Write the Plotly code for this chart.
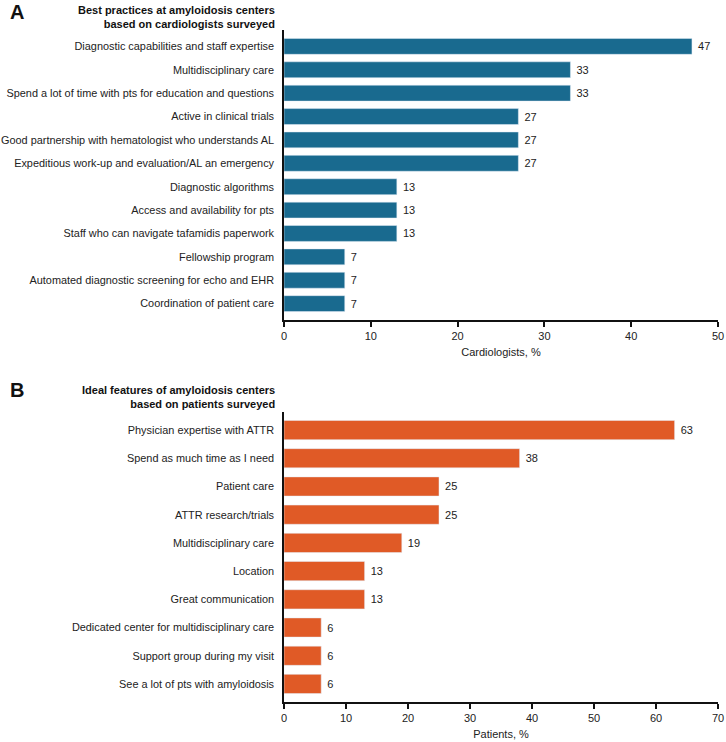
import plotly.graph_objects as go

cats_a = [
    "Diagnostic capabilities and staff expertise",
    "Multidisciplinary care",
    "Spend a lot of time with pts for education and questions",
    "Active in clinical trials",
    "Good partnership with hematologist who understands AL",
    "Expeditious work-up and evaluation/AL an emergency",
    "Diagnostic algorithms",
    "Access and availability for pts",
    "Staff who can navigate tafamidis paperwork",
    "Fellowship program",
    "Automated diagnostic screening for echo and EHR",
    "Coordination of patient care",
]
vals_a = [47, 33, 33, 27, 27, 27, 13, 13, 13, 7, 7, 7]

cats_b = [
    "Physician expertise with ATTR",
    "Spend as much time as I need",
    "Patient care",
    "ATTR research/trials",
    "Multidisciplinary care",
    "Location",
    "Great communication",
    "Dedicated center for multidisciplinary care",
    "Support group during my visit",
    "See a lot of pts with amyloidosis",
]
vals_b = [63, 38, 25, 25, 19, 13, 13, 6, 6, 6]

title_a = "Best practices at amyloidosis centers<br>based on cardiologists surveyed"
title_b = "Ideal features of amyloidosis centers<br>based on patients surveyed"
xlab_a = "Cardiologists, %"
xlab_b = "Patients, %"

FONT = "Liberation Sans, Arial, sans-serif"
C_A = "#196a8f"
C_B = "#e05a26"
H = 742

def py(p):
    return (H - p) / H

fig = go.Figure()
fig.add_trace(go.Bar(
    x=vals_a, y=cats_a, orientation="h", marker_color=C_A,
    text=[" " + str(v) for v in vals_a], textposition="outside",
    textfont=dict(size=11, color="#222"), cliponaxis=False, constraintext="none",
    xaxis="x", yaxis="y", hoverinfo="skip",
))
fig.add_trace(go.Bar(
    x=vals_b, y=cats_b, orientation="h", marker_color=C_B,
    text=[" " + str(v) for v in vals_b], textposition="outside",
    textfont=dict(size=11, color="#222"), cliponaxis=False, constraintext="none",
    xaxis="x2", yaxis="y2", hoverinfo="skip",
))

axis_common = dict(showline=True, linecolor="#111", linewidth=1.5, showgrid=False,
                   zeroline=False, ticks="outside", ticklen=5, tickwidth=1.5,
                   tickcolor="#111", tickfont=dict(size=11, color="#222"),
                   dtick=10)

fig.update_layout(
    width=726, height=H,
    margin=dict(l=284, r=8, t=0, b=0),
    paper_bgcolor="white", plot_bgcolor="white",
    font=dict(family=FONT, color="#222", size=11),
    showlegend=False, bargap=0.32,
    xaxis=dict(domain=[0, 1], anchor="y", range=[0, 50],
               title=dict(text=xlab_a, font=dict(size=11), standoff=7), **axis_common),
    yaxis=dict(domain=[py(320), py(30)], anchor="x", type="category",
               categoryorder="array", categoryarray=cats_a,
               range=[len(cats_a) - 1 + 0.7, -0.7],
               showline=True, linecolor="#111", linewidth=1.5, ticks="",
               showgrid=False, tickfont=dict(size=10.9, color="#222"), ticklabelstandoff=6),
    xaxis2=dict(domain=[0, 1], anchor="y2", range=[0, 70],
                title=dict(text=xlab_b, font=dict(size=11), standoff=7), **axis_common),
    yaxis2=dict(domain=[py(702), py(412)], anchor="x2", type="category",
                categoryorder="array", categoryarray=cats_b,
                range=[len(cats_b) - 1 + 0.64, -0.64],
                showline=True, linecolor="#111", linewidth=1.5, ticks="",
                showgrid=False, tickfont=dict(size=10.9, color="#222"), ticklabelstandoff=6),
)

annos = [
    dict(text="<b>A</b>", x=-276 / 434, y=py(12), xref="paper", yref="paper",
         xanchor="left", yanchor="middle", showarrow=False, font=dict(size=20, color="#111")),
    dict(text="<b>" + title_a.replace("<br>", "</b><br><b>") + "</b>", x=0, y=py(2),
         xref="paper", yref="paper", xanchor="right", yanchor="top", xshift=-7,
         align="right", showarrow=False, font=dict(size=11, color="#111")),
    dict(text="<b>B</b>", x=-276 / 434, y=py(390), xref="paper", yref="paper",
         xanchor="left", yanchor="middle", showarrow=False, font=dict(size=20, color="#111")),
    dict(text="<b>" + title_b.replace("<br>", "</b><br><b>") + "</b>", x=0, y=py(382),
         xref="paper", yref="paper", xanchor="right", yanchor="top", xshift=-7,
         align="right", showarrow=False, font=dict(size=11, color="#111")),
]
fig.update_layout(annotations=annos)

fig.write_html("out.html")
